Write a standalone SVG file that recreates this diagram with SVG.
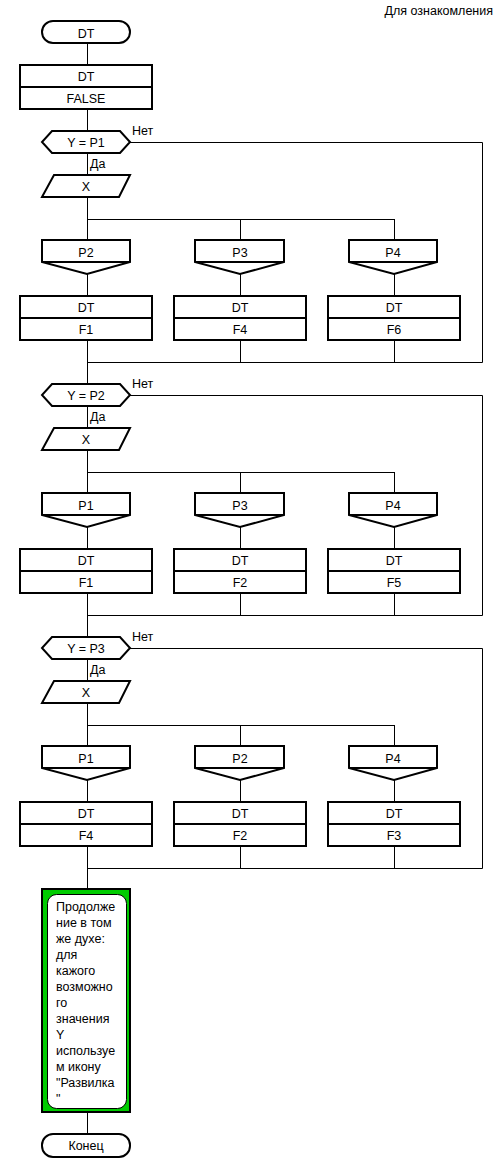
<svg xmlns="http://www.w3.org/2000/svg" width="502" height="1174" viewBox="0 0 502 1174">
<style>
.s{fill:#fff;stroke:#000;stroke-width:2}
.c{fill:none;stroke:#000;stroke-width:1}
.t{font-family:"Liberation Sans",Arial,sans-serif;font-size:12.5px;fill:#000;text-anchor:middle}
.l{font-family:"Liberation Sans",Arial,sans-serif;font-size:12.5px;fill:#000}
</style>
<rect width="502" height="1174" fill="#fff"/>
<text class="l" x="493" y="15" text-anchor="end">Для ознакомления</text>
<g id="connectors">
<path class="c" d="M87.5 43V1134"/>
<path class="c" d="M130 142.5H482.5V362.5H87 M87 219.5H394.5 M240.5 219V362 M394.5 219V362"/>
<path class="c" d="M130 395.5H482.5V615.5H87 M87 472.5H394.5 M240.5 472V615 M394.5 472V615"/>
<path class="c" d="M130 648.5H482.5V868.5H87 M87 725.5H394.5 M240.5 725V868 M394.5 725V868"/>
</g>
<g id="start"><rect class="s" x="42" y="21" width="88" height="22" rx="11"/><text class="t" x="86" y="37.5">DT</text></g>
<g id="init"><rect class="s" x="20" y="65" width="132" height="44"/><path class="s" d="M20 87H152"/><text class="t" x="86" y="81">DT</text><text class="t" x="86" y="103">FALSE</text></g>

<g id="section1">
<g id="q1"><path class="s" d="M52 131H120L130 142L120 153H52L42 142Z"/><text class="t" x="86" y="147">Y = P1</text><text class="l" x="132" y="135">Нет</text><text class="l" x="90" y="168">Да</text></g>
<g id="in1"><path class="s" d="M54 175H130L119 197H42Z"/><text class="t" x="86" y="190.5">X</text></g>
<g id="c1a"><path class="s" d="M42 240H130V262L87 274L42 262Z"/><path class="s" d="M42 262H130"/><text class="t" x="86" y="257">P2</text></g>
<g id="c1b"><path class="s" d="M195 240H284V262L240 274L195 262Z"/><path class="s" d="M195 262H284"/><text class="t" x="240" y="257">P3</text></g>
<g id="c1c"><path class="s" d="M349 240H437V262L394 274L349 262Z"/><path class="s" d="M349 262H437"/><text class="t" x="393" y="257">P4</text></g>
<g id="b1a"><rect class="s" x="20" y="296" width="132" height="44"/><path class="s" d="M20 318H152"/><text class="t" x="86" y="312">DT</text><text class="t" x="86" y="334">F1</text></g>
<g id="b1b"><rect class="s" x="174" y="296" width="132" height="44"/><path class="s" d="M174 318H306"/><text class="t" x="240" y="312">DT</text><text class="t" x="240" y="334">F4</text></g>
<g id="b1c"><rect class="s" x="328" y="296" width="132" height="44"/><path class="s" d="M328 318H460"/><text class="t" x="394" y="312">DT</text><text class="t" x="394" y="334">F6</text></g>
</g>

<g id="section2" transform="translate(0,253)">
<g id="q2"><path class="s" d="M52 131H120L130 142L120 153H52L42 142Z"/><text class="t" x="86" y="147">Y = P2</text><text class="l" x="132" y="135">Нет</text><text class="l" x="90" y="168">Да</text></g>
<g id="in2"><path class="s" d="M54 175H130L119 197H42Z"/><text class="t" x="86" y="190.5">X</text></g>
<g id="c2a"><path class="s" d="M42 240H130V262L87 274L42 262Z"/><path class="s" d="M42 262H130"/><text class="t" x="86" y="257">P1</text></g>
<g id="c2b"><path class="s" d="M195 240H284V262L240 274L195 262Z"/><path class="s" d="M195 262H284"/><text class="t" x="240" y="257">P3</text></g>
<g id="c2c"><path class="s" d="M349 240H437V262L394 274L349 262Z"/><path class="s" d="M349 262H437"/><text class="t" x="393" y="257">P4</text></g>
<g id="b2a"><rect class="s" x="20" y="296" width="132" height="44"/><path class="s" d="M20 318H152"/><text class="t" x="86" y="312">DT</text><text class="t" x="86" y="334">F1</text></g>
<g id="b2b"><rect class="s" x="174" y="296" width="132" height="44"/><path class="s" d="M174 318H306"/><text class="t" x="240" y="312">DT</text><text class="t" x="240" y="334">F2</text></g>
<g id="b2c"><rect class="s" x="328" y="296" width="132" height="44"/><path class="s" d="M328 318H460"/><text class="t" x="394" y="312">DT</text><text class="t" x="394" y="334">F5</text></g>
</g>

<g id="section3" transform="translate(0,506)">
<g id="q3"><path class="s" d="M52 131H120L130 142L120 153H52L42 142Z"/><text class="t" x="86" y="147">Y = P3</text><text class="l" x="132" y="135">Нет</text><text class="l" x="90" y="168">Да</text></g>
<g id="in3"><path class="s" d="M54 175H130L119 197H42Z"/><text class="t" x="86" y="190.5">X</text></g>
<g id="c3a"><path class="s" d="M42 240H130V262L87 274L42 262Z"/><path class="s" d="M42 262H130"/><text class="t" x="86" y="257">P1</text></g>
<g id="c3b"><path class="s" d="M195 240H284V262L240 274L195 262Z"/><path class="s" d="M195 262H284"/><text class="t" x="240" y="257">P2</text></g>
<g id="c3c"><path class="s" d="M349 240H437V262L394 274L349 262Z"/><path class="s" d="M349 262H437"/><text class="t" x="393" y="257">P4</text></g>
<g id="b3a"><rect class="s" x="20" y="296" width="132" height="44"/><path class="s" d="M20 318H152"/><text class="t" x="86" y="312">DT</text><text class="t" x="86" y="334">F4</text></g>
<g id="b3b"><rect class="s" x="174" y="296" width="132" height="44"/><path class="s" d="M174 318H306"/><text class="t" x="240" y="312">DT</text><text class="t" x="240" y="334">F2</text></g>
<g id="b3c"><rect class="s" x="328" y="296" width="132" height="44"/><path class="s" d="M328 318H460"/><text class="t" x="394" y="312">DT</text><text class="t" x="394" y="334">F3</text></g>
</g>

<g id="note">
<rect x="42" y="889" width="88" height="223" fill="#00cc00" stroke="#000" stroke-width="2"/>
<rect x="47.5" y="894.5" width="79" height="214" rx="9" fill="#fff" stroke="#000" stroke-width="1"/>
<text class="l" x="56">
<tspan x="56" y="911">Продолже</tspan>
<tspan x="56" y="927">ние в том</tspan>
<tspan x="56" y="943">же духе:</tspan>
<tspan x="56" y="959">для</tspan>
<tspan x="56" y="975">кажого</tspan>
<tspan x="56" y="991">возможно</tspan>
<tspan x="56" y="1007">го</tspan>
<tspan x="56" y="1023">значения</tspan>
<tspan x="56" y="1039">Y</tspan>
<tspan x="56" y="1055">используе</tspan>
<tspan x="56" y="1071">м икону</tspan>
<tspan x="56" y="1087">"Развилка</tspan>
<tspan x="56" y="1103">"</tspan>
</text>
</g>
<g id="end"><rect class="s" x="42" y="1134" width="88" height="23" rx="11"/><text class="t" x="86" y="1150">Конец</text></g>
</svg>
